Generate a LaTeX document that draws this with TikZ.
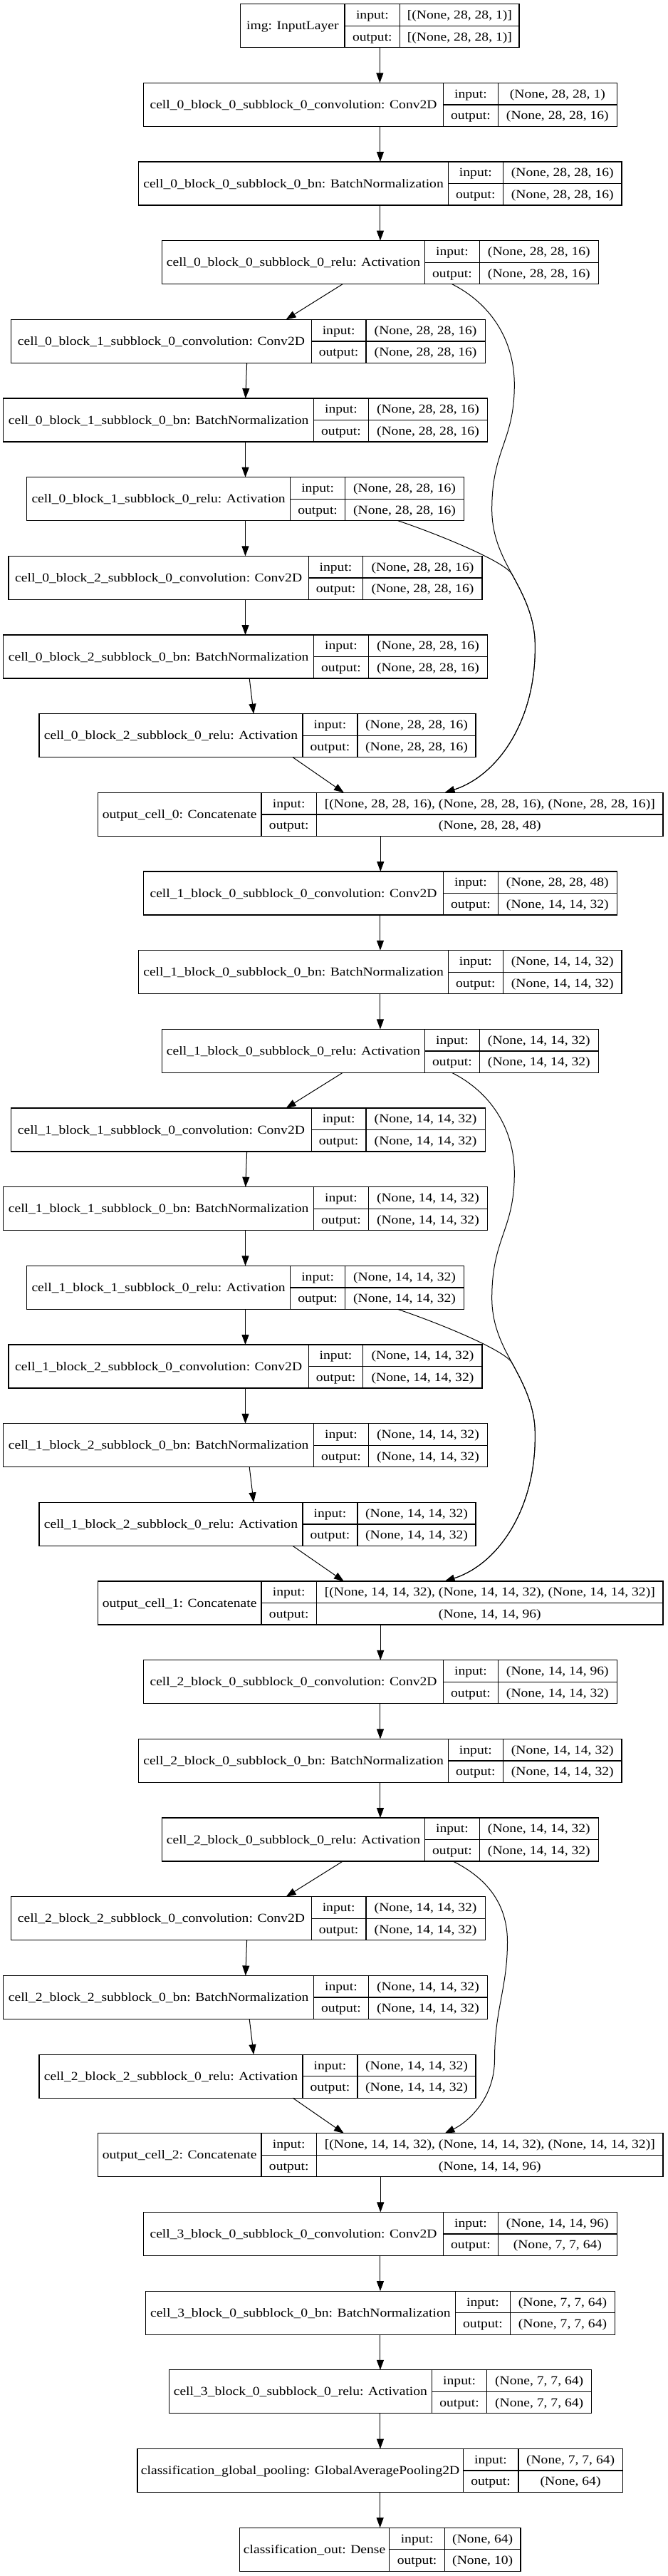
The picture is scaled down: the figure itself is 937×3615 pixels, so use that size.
\documentclass[tikz,border=0pt]{standalone}
\usepackage{fontspec}
\setmainfont{Liberation Serif}[FakeStretch=1.14]
\usetikzlibrary{arrows.meta}
\newcommand\lfont{\fontsize{17.2}{20}\selectfont}
\tikzset{
  box/.style={draw=black, line width=1.3pt, inner sep=0pt, outer sep=0pt, anchor=north west, fill=white},
  boxline/.style={draw=black, line width=1.3pt},
  lbl/.style={font=\lfont, inner sep=0pt, anchor=base, text=black},
  edge/.style={draw=black, line width=1pt, -{Triangle[length=14pt,width=10pt]}},
}
% #1 name, #2 rank index, #3 left, #4 divider 1, #5 divider 2, #6 right, #7 label, #8 input, #9 output
\newcommand\lay[9]{%
  \pgfmathsetmacro\LTp{5.7+110.67*#2}%
  \pgfmathsetmacro\LBt{\LTp+61}%
  \pgfmathsetmacro\LMd{\LTp+30.5}%
  \pgfmathsetmacro\LWd{#6-#3}%
  \node[box, minimum width=\LWd pt, minimum height=61pt] (#1) at (#3,\LTp) {};
  \draw[boxline] (#4,\LTp) -- (#4,\LBt) (#5,\LTp) -- (#5,\LBt) (#4,\LMd) -- (#6,\LMd);
  \node[lbl] at ({(#3+#4)/2},{\LMd+5.6}) {#7};
  \node[lbl] at ({(#4+#5)/2},{\LTp+20.85}) {input:};
  \node[lbl] at ({(#4+#5)/2},{\LMd+20.85}) {output:};
  \node[lbl] at ({(#5+#6)/2},{\LTp+20.85}) {#8};
  \node[lbl] at ({(#5+#6)/2},{\LMd+20.85}) {#9};
}
% edges of a cell with three blocks: #1 base index, #2 vertical offset
\newcommand\cellflow[2]{%
  \pgfmathtruncatemacro\ka{#1}%
  \pgfmathtruncatemacro\kb{#1+1}%
  \pgfmathtruncatemacro\kc{#1+2}%
  \pgfmathtruncatemacro\kd{#1+3}%
  \pgfmathtruncatemacro\ke{#1+4}%
  \pgfmathtruncatemacro\kf{#1+5}%
  \pgfmathtruncatemacro\kg{#1+6}%
  \pgfmathtruncatemacro\kh{#1+7}%
  \pgfmathtruncatemacro\ki{#1+8}%
  \pgfmathtruncatemacro\kj{#1+9}%
  \begin{scope}[shift={(0,#2)}]
    \draw[edge] (n\ka.south) -- (n\ka.south |- n\kb.north);
    \draw[edge] (n\kb.south) -- (n\kb.south |- n\kc.north);
    \draw[edge] ([xshift=-52.85pt]n\kc.south) -- ([xshift=53.2pt]n\kd.north);
    \draw[edge] ([xshift=-1.8pt]n\kd.south) -- ([xshift=0.25pt]n\ke.north);
    \draw[edge] (n\ke.south) -- (n\ke.south |- n\kf.north);
    \draw[edge] (n\kf.south) -- (n\kf.south |- n\kg.north);
    \draw[edge] (n\kg.south) -- (n\kg.south |- n\kh.north);
    \draw[edge] ([xshift=5.65pt]n\kh.south) -- ([xshift=-5.35pt]n\ki.north);
    \draw[edge] ([xshift=49.55pt]n\ki.south) -- ([xshift=-51.35pt]n\kj.north);
    \draw[edge] ([xshift=100.75pt]n\kc.south) .. controls (687,425) and (722.3,475) .. (722.3,540)
      .. controls (722.3,620) and (690.7,630) .. (690.7,715)
      .. controls (690.7,755) and (707.1,784) .. (719,806)
      .. controls (733.3,832.4) and (751.3,865) .. (751.3,905)
      .. controls (753,1010) and (700,1088) .. ([xshift=90.25pt]n\kj.north);
    \draw[edge] ([xshift=214.3pt]n\kf.south) .. controls (618.8,751) and (709.5,788.4) .. (719,806)
      .. controls (733.3,832.4) and (751.3,865) .. (751.3,905)
      .. controls (753,1010) and (700,1088) .. ([xshift=90.25pt]n\kj.north);
  \end{scope}
}
\begin{document}
\begin{tikzpicture}[x=1pt,y=-1pt]
\fill[white] (0,0) rectangle (937,3615);
\useasboundingbox (0,0) rectangle (937,3615);

\lay{n0}{0}{337.6}{484.1}{561.7}{729.1}{img: InputLayer}{[(None, 28, 28, 1)]}{[(None, 28, 28, 1)]}
% cell 0
\lay{n1}{1}{201.4}{622.7}{699.2}{866.5}{cell\_0\_block\_0\_subblock\_0\_convolution: Conv2D}{(None, 28, 28, 1)}{(None, 28, 28, 16)}
\lay{n2}{2}{194.8}{629.3}{706.4}{873.1}{cell\_0\_block\_0\_subblock\_0\_bn: BatchNormalization}{(None, 28, 28, 16)}{(None, 28, 28, 16)}
\lay{n3}{3}{227.7}{596.4}{673.5}{840.2}{cell\_0\_block\_0\_subblock\_0\_relu: Activation}{(None, 28, 28, 16)}{(None, 28, 28, 16)}
\lay{n4}{4}{15.5}{437.4}{513.9}{681.3}{cell\_0\_block\_1\_subblock\_0\_convolution: Conv2D}{(None, 28, 28, 16)}{(None, 28, 28, 16)}
\lay{n5}{5}{4.8}{440.4}{517.5}{684.3}{cell\_0\_block\_1\_subblock\_0\_bn: BatchNormalization}{(None, 28, 28, 16)}{(None, 28, 28, 16)}
\lay{n6}{6}{37.6}{407.6}{484.7}{651.4}{cell\_0\_block\_1\_subblock\_0\_relu: Activation}{(None, 28, 28, 16)}{(None, 28, 28, 16)}
\lay{n7}{7}{12}{433.3}{509.8}{677.1}{cell\_0\_block\_2\_subblock\_0\_convolution: Conv2D}{(None, 28, 28, 16)}{(None, 28, 28, 16)}
\lay{n8}{8}{4.8}{440.4}{517.5}{684.3}{cell\_0\_block\_2\_subblock\_0\_bn: BatchNormalization}{(None, 28, 28, 16)}{(None, 28, 28, 16)}
\lay{n9}{9}{55}{424.9}{502}{668.1}{cell\_0\_block\_2\_subblock\_0\_relu: Activation}{(None, 28, 28, 16)}{(None, 28, 28, 16)}
\lay{n10}{10}{137.4}{366.9}{444.6}{931.1}{output\_cell\_0: Concatenate}{[(None, 28, 28, 16), (None, 28, 28, 16), (None, 28, 28, 16)]}{(None, 28, 28, 48)}
% cell 1
\lay{n11}{11}{201.4}{622.7}{699.2}{866.5}{cell\_1\_block\_0\_subblock\_0\_convolution: Conv2D}{(None, 28, 28, 48)}{(None, 14, 14, 32)}
\lay{n12}{12}{194.8}{629.3}{706.4}{873.1}{cell\_1\_block\_0\_subblock\_0\_bn: BatchNormalization}{(None, 14, 14, 32)}{(None, 14, 14, 32)}
\lay{n13}{13}{227.7}{596.4}{673.5}{840.2}{cell\_1\_block\_0\_subblock\_0\_relu: Activation}{(None, 14, 14, 32)}{(None, 14, 14, 32)}
\lay{n14}{14}{15.5}{437.4}{513.9}{681.3}{cell\_1\_block\_1\_subblock\_0\_convolution: Conv2D}{(None, 14, 14, 32)}{(None, 14, 14, 32)}
\lay{n15}{15}{4.8}{440.4}{517.5}{684.3}{cell\_1\_block\_1\_subblock\_0\_bn: BatchNormalization}{(None, 14, 14, 32)}{(None, 14, 14, 32)}
\lay{n16}{16}{37.6}{407.6}{484.7}{651.4}{cell\_1\_block\_1\_subblock\_0\_relu: Activation}{(None, 14, 14, 32)}{(None, 14, 14, 32)}
\lay{n17}{17}{12}{433.3}{509.8}{677.1}{cell\_1\_block\_2\_subblock\_0\_convolution: Conv2D}{(None, 14, 14, 32)}{(None, 14, 14, 32)}
\lay{n18}{18}{4.8}{440.4}{517.5}{684.3}{cell\_1\_block\_2\_subblock\_0\_bn: BatchNormalization}{(None, 14, 14, 32)}{(None, 14, 14, 32)}
\lay{n19}{19}{55}{424.9}{502}{668.1}{cell\_1\_block\_2\_subblock\_0\_relu: Activation}{(None, 14, 14, 32)}{(None, 14, 14, 32)}
\lay{n20}{20}{137.4}{366.9}{444.6}{931.1}{output\_cell\_1: Concatenate}{[(None, 14, 14, 32), (None, 14, 14, 32), (None, 14, 14, 32)]}{(None, 14, 14, 96)}
% cell 2
\lay{n21}{21}{201.4}{622.7}{699.2}{866.5}{cell\_2\_block\_0\_subblock\_0\_convolution: Conv2D}{(None, 14, 14, 96)}{(None, 14, 14, 32)}
\lay{n22}{22}{194.8}{629.3}{706.4}{873.1}{cell\_2\_block\_0\_subblock\_0\_bn: BatchNormalization}{(None, 14, 14, 32)}{(None, 14, 14, 32)}
\lay{n23}{23}{227.7}{596.4}{673.5}{840.2}{cell\_2\_block\_0\_subblock\_0\_relu: Activation}{(None, 14, 14, 32)}{(None, 14, 14, 32)}
\lay{n24}{24}{15.5}{437.4}{513.9}{681.3}{cell\_2\_block\_2\_subblock\_0\_convolution: Conv2D}{(None, 14, 14, 32)}{(None, 14, 14, 32)}
\lay{n25}{25}{4.8}{440.4}{517.5}{684.3}{cell\_2\_block\_2\_subblock\_0\_bn: BatchNormalization}{(None, 14, 14, 32)}{(None, 14, 14, 32)}
\lay{n26}{26}{55}{424.9}{502}{668.1}{cell\_2\_block\_2\_subblock\_0\_relu: Activation}{(None, 14, 14, 32)}{(None, 14, 14, 32)}
\lay{n27}{27}{137.4}{366.9}{444.6}{931.1}{output\_cell\_2: Concatenate}{[(None, 14, 14, 32), (None, 14, 14, 32), (None, 14, 14, 32)]}{(None, 14, 14, 96)}
% cell 3 and head
\lay{n28}{28}{201.4}{622.7}{699.2}{866.5}{cell\_3\_block\_0\_subblock\_0\_convolution: Conv2D}{(None, 14, 14, 96)}{(None, 7, 7, 64)}
\lay{n29}{29}{204.4}{639.4}{716.5}{863.5}{cell\_3\_block\_0\_subblock\_0\_bn: BatchNormalization}{(None, 7, 7, 64)}{(None, 7, 7, 64)}
\lay{n30}{30}{237.2}{606.6}{683.6}{830.7}{cell\_3\_block\_0\_subblock\_0\_relu: Activation}{(None, 7, 7, 64)}{(None, 7, 7, 64)}
\lay{n31}{31}{193}{650.2}{727.9}{874.3}{classification\_global\_pooling: GlobalAveragePooling2D}{(None, 7, 7, 64)}{(None, 64)}
\lay{n32}{32}{336.4}{546.8}{624.5}{730.9}{classification\_out: Dense}{(None, 64)}{(None, 10)}

% edges
\draw[edge] (n0.south) -- (n0.south |- n1.north);
\cellflow{1}{0}
\draw[edge] (n10.south) -- (n10.south |- n11.north);
\cellflow{11}{1106.7}
\draw[edge] (n20.south) -- (n20.south |- n21.north);
\draw[edge] (n21.south) -- (n21.south |- n22.north);
\draw[edge] (n22.south) -- (n22.south |- n23.north);
\draw[edge] ([xshift=-52.85pt]n23.south) -- ([xshift=53.2pt]n24.north);
\draw[edge] ([xshift=-1.8pt]n24.south) -- ([xshift=0.25pt]n25.north);
\draw[edge] ([xshift=5.65pt]n25.south) -- ([xshift=-5.35pt]n26.north);
\draw[edge] ([xshift=49.55pt]n26.south) -- ([xshift=-51.35pt]n27.north);
\draw[edge] ([xshift=102.45pt]n23.south) .. controls (682,2635) and (712.5,2670) .. (712.5,2725)
  .. controls (712.5,2790) and (694.5,2820) .. (694.5,2890)
  .. controls (694.5,2945) and (657,2978) .. ([xshift=90.25pt]n27.north);
\draw[edge] (n27.south) -- (n27.south |- n28.north);
\draw[edge] (n28.south) -- (n28.south |- n29.north);
\draw[edge] (n29.south) -- (n29.south |- n30.north);
\draw[edge] (n30.south) -- (n30.south |- n31.north);
\draw[edge] (n31.south) -- (n31.south |- n32.north);
\end{tikzpicture}
\end{document}
